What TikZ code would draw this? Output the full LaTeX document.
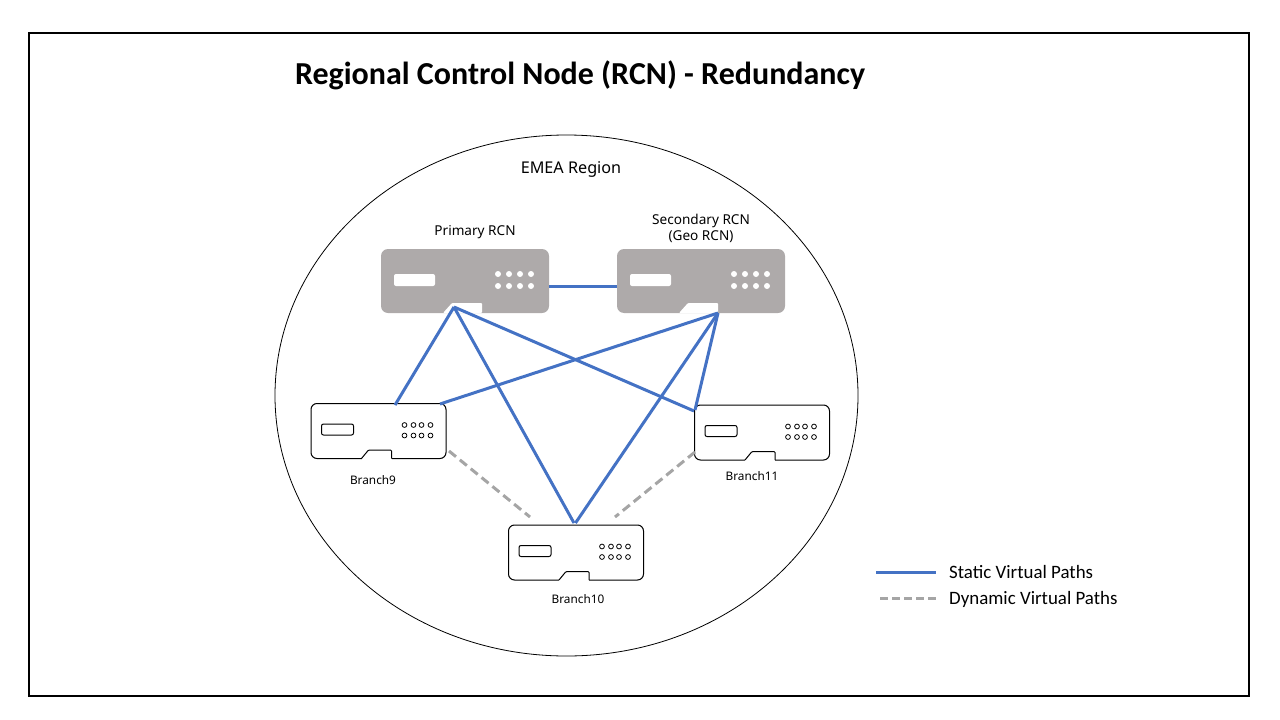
\documentclass[tikz,border=0pt]{standalone}
\usepackage{fontspec}
\setmainfont{Carlito}
\newfontfamily\labelfont{Noto Sans}
\usetikzlibrary{arrows.meta, positioning, shapes.geometric}
\definecolor{staticline}{HTML}{4472C4}
\definecolor{dynline}{HTML}{A5A5A5}
\definecolor{rcnfill}{HTML}{AEAAAA}
\tikzset{
  frameb/.style   = {draw=black, line width=1.6pt},
  regionb/.style  = {ellipse, draw=black, line width=0.8pt, inner sep=0pt,
                     minimum width=583pt, minimum height=521pt},
  ttl/.style      = {font=\fontsize{32}{36}\selectfont\bfseries, inner sep=0pt},
  devlbl/.style   = {font=\labelfont\fontsize{13.6}{16}\selectfont, align=center, inner sep=0pt},
  brlbl/.style    = {font=\labelfont\fontsize{11.8}{14}\selectfont, inner sep=0pt},
  reglbl/.style   = {font=\labelfont\fontsize{16.2}{19}\selectfont, inner sep=0pt},
  leglbl/.style   = {font=\fontsize{18.9}{22}\selectfont, anchor=base west, inner sep=0pt},
  staticp/.style  = {draw=staticline, line width=3pt},
  dynp/.style     = {draw=dynline, line width=3pt, dash pattern=on 9pt off 5pt},
  dynleg/.style   = {dynp, dash pattern=on 8pt off 4pt},
  rcnbox/.style   = {draw=none, fill=rcnfill, rounded corners=7pt, inner sep=0pt,
                     minimum width=168pt, minimum height=64pt},
  branchbox/.style= {draw=black, fill=white, line width=1pt, rounded corners=6pt, inner sep=0pt,
                     minimum width=135pt, minimum height=55pt},
  rcn/.pic = {
    \node[rcnbox] (box) at (0,0) {};
    \fill[white, rounded corners=1pt] (-22,32) -- (-13,22) -- (17,22) -- (17,32) -- cycle;
    \fill[white, rounded corners=2pt] (-71,-7) rectangle (-30,5);
    \foreach \dx in {33,44,55,66}
      \foreach \dy in {-7,5}
        \fill[white] (\dx,\dy) circle (3pt);
  },
  branch/.pic = {
    \node[branchbox] (box) at (0,0) {};
    \fill[white] (-17,26.5) rectangle (13,29);
    \draw[black, line width=1pt, rounded corners=1pt] (-17,27.5) -- (-10,19) -- (13,19) -- (13,27.5);
    \draw[black, line width=1pt, rounded corners=2pt] (-57,-7) rectangle (-25,4);
    \foreach \dx in {26,35,43,52}
      \foreach \dy in {-6,4.5}
        \draw[black, line width=0.8pt] (\dx,\dy) circle (2.4pt);
  },
}

\begin{document}
\begin{tikzpicture}[x=1pt, y=-1pt]
  \useasboundingbox (0,0) rectangle (1280,720);
  \node[draw=none, inner sep=0pt, minimum width=1220pt, minimum height=663pt, frameb] (frame) at (639,364.5) {};
  \node[ttl] (title) at (580,75.5) {Regional Control Node (RCN) - Redundancy};
  \node[regionb] (region) at (566.5,395.5) {};
  \node[reglbl] (emea) at (571,169.5) {EMEA Region};

  \pic (prim) at (465,281) {rcn};
  \pic (sec) at (701,281) {rcn};
  \pic (bnine) at (378.5,431) {branch};
  \pic (bten) at (576,552.5) {branch};
  \pic (beleven) at (762,432.5) {branch};

  \node[devlbl] (primlbl) at (475,232) {Primary RCN};
  \node[devlbl] (seclbl) at (701,228.5) {Secondary RCN\\(Geo RCN)};
  \node[brlbl] (bninelbl) at (373,480) {Branch9};
  \node[brlbl] (btenlbl) at (578,599) {Branch10};
  \node[brlbl] (belevenlbl) at (752,476) {Branch11};

  % connector ends
  \coordinate (primr) at (549,286);
  \coordinate (secl) at (617,286);
  \coordinate (primdn) at (454,307);
  \coordinate (secdn) at (718,313);
  \coordinate (bninea) at (395,405);
  \coordinate (bnineb) at (440,404);
  \coordinate (bnined) at (449,451);
  \coordinate (btena) at (574,523);
  \coordinate (btenb) at (575.5,523);
  \coordinate (btenl) at (530,517);
  \coordinate (btenr) at (615,517);
  \coordinate (belevena) at (694,411);
  \coordinate (belevenb) at (695,410);
  \coordinate (belevend) at (695,452);

  \draw[staticp] (primr) -- (secl);
  \draw[staticp] (primdn) -- (bninea);
  \draw[staticp] (primdn) -- (btena);
  \draw[staticp] (primdn) -- (belevena);
  \draw[staticp] (secdn) -- (bnineb);
  \draw[staticp] (secdn) -- (btenb);
  \draw[staticp] (secdn) -- (belevenb);
  \draw[dynp] (bnined) -- (btenl);
  \draw[dynp] (belevend) -- (btenr);

  % legend
  \coordinate (statica) at (876,572);
  \coordinate (staticb) at (936,572);
  \coordinate (dyna) at (880,598);
  \coordinate (dynb) at (936,598);
  \draw[staticp] (statica) -- (staticb);
  \draw[dynleg] (dyna) -- (dynb);
  \node[leglbl] (staticlbl) at (949,578) {Static Virtual Paths};
  \node[leglbl] (dynlbl) at (949,604) {Dynamic Virtual Paths};
\end{tikzpicture}
\end{document}
